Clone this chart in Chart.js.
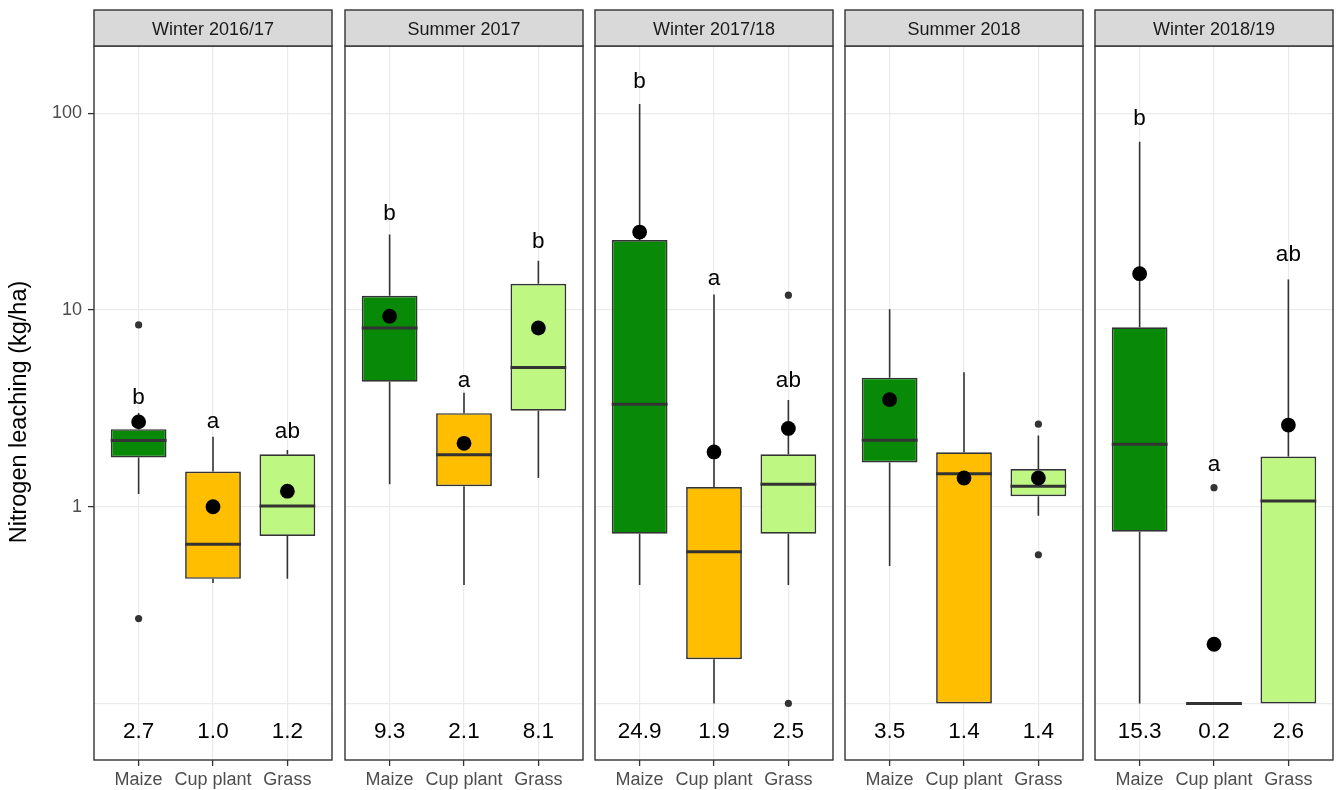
<!DOCTYPE html>
<html>
<head>
<meta charset="utf-8">
<title>Nitrogen leaching by crop and season</title>
<script src="https://cdn.jsdelivr.net/npm/chart.js@4.4.1/dist/chart.umd.min.js"></script>
<style>
  html, body { margin: 0; padding: 0; background: #ffffff; }
  #figure { position: relative; width: 1336px; height: 790px; overflow: hidden; background: #ffffff; }
  #figure canvas { position: absolute; top: 0; }
</style>
</head>
<body>
<div id="figure"></div>
<script>
// ---- data -------------------------------------------------------------
const seasons = ['Winter 2016/17', 'Summer 2017', 'Winter 2017/18', 'Summer 2018', 'Winter 2018/19'];
const crops = ['Maize', 'Cup plant', 'Grass'];

// box statistics, one row per season, one column per crop (kg N/ha)
const whiskerLow = [
  [1.16, 0.41, 0.43],
  [1.30, 0.40, 1.40],
  [0.40, 0.10, 0.40],
  [0.50, 0.10, 0.90],
  [0.10, 0.10, 0.10]
];
const lowerQuartile = [
  [1.78, 0.43, 0.71],
  [4.32, 1.27, 3.08],
  [0.73, 0.168, 0.73],
  [1.68, 0.10, 1.13],
  [0.746, 0.10, 0.10]
];
const medianValue = [
  [2.17, 0.645, 1.01],
  [8.10, 1.84, 5.11],
  [3.32, 0.59, 1.30],
  [2.18, 1.47, 1.27],
  [2.08, 0.10, 1.07]
];
const upperQuartile = [
  [2.48, 1.51, 1.85],
  [11.8, 2.99, 13.6],
  [22.7, 1.26, 1.85],
  [4.53, 1.89, 1.555],
  [8.17, 0.10, 1.80]
];
const whiskerHigh = [
  [3.00, 2.27, 1.94],
  [24.2, 3.80, 17.8],
  [111.5, 12.0, 3.49],
  [10.1, 4.82, 2.30],
  [71.7, 0.10, 14.3]
];
const outlierValues = [
  [[8.4, 0.27], [], []],
  [[], [], []],
  [[], [], [11.9, 0.10]],
  [[], [], [2.63, 0.57]],
  [[], [1.25], []]
];
const meanValue = [
  [2.7, 1.0, 1.2],
  [9.3, 2.1, 8.1],
  [24.9, 1.9, 2.5],
  [3.5, 1.4, 1.4],
  [15.3, 0.2, 2.6]
];
// significance letters and the level (kg N/ha) of their baseline
const groupLetters = [
  ['b', 'a', 'ab'],
  ['b', 'a', 'b'],
  ['b', 'a', 'ab'],
  ['', '', ''],
  ['b', 'a', 'ab']
];
const letterLevel = [
  [3.33, 2.50, 2.24],
  [28.7, 4.05, 20.6],
  [134, 13.4, 4.05],
  [null, null, null],
  [87.2, 1.52, 17.8]
];
const yGridValues = [0.1, 1, 10, 100];
const yTickLabels = ['', '1', '10', '100'];
const yRange = [0.0516, 219.8];

// ---- styling / layout -------------------------------------------------
const cropFill = ['#088A08', '#FFBF00', '#BEF781'];
const INK = '#333333';
const GRID = '#EBEBEB';
const FONT = '"Liberation Sans", Arial, "DejaVu Sans", sans-serif';
const AXIS_TEXT = 18;
const LABEL_TEXT = 22.5;
const panelLeft = [94, 345, 595, 845, 1095];
const PANEL_W = 238, PANEL_TOP = 46, PANEL_BOTTOM = 760, STRIP_H = 36;
const AXIS_W = 94, PAD = 4, FIG_H = 790;

const figure = document.getElementById('figure');

// whiskers and median bars, drawn right after the boxes
const boxParts = {
  id: 'boxParts',
  afterDatasetDraw(chart, args, opts) {
    if (args.index !== 0) return;
    const p = opts.panel;
    const y = chart.scales.y;
    const ctx = chart.ctx;
    ctx.save();
    ctx.strokeStyle = INK;
    ctx.lineCap = 'butt';
    args.meta.data.forEach((bar, k) => {
      const { x, width } = bar.getProps(['x', 'width'], true);
      ctx.lineWidth = 1.6;
      ctx.beginPath();
      ctx.moveTo(x, y.getPixelForValue(upperQuartile[p][k]));
      ctx.lineTo(x, y.getPixelForValue(whiskerHigh[p][k]));
      ctx.moveTo(x, y.getPixelForValue(lowerQuartile[p][k]));
      ctx.lineTo(x, y.getPixelForValue(whiskerLow[p][k]));
      ctx.stroke();
      const ym = y.getPixelForValue(medianValue[p][k]);
      ctx.lineWidth = 3;
      ctx.beginPath();
      ctx.moveTo(x - width / 2, ym);
      ctx.lineTo(x + width / 2, ym);
      ctx.stroke();
    });
    ctx.restore();
  }
};

// letters above the boxes and mean values along the bottom
const panelText = {
  id: 'panelText',
  afterDatasetsDraw(chart, args, opts) {
    const p = opts.panel;
    const { x: xs, y: ys } = chart.scales;
    const ctx = chart.ctx;
    ctx.save();
    ctx.fillStyle = '#000000';
    ctx.font = `${LABEL_TEXT}px ${FONT}`;
    ctx.textAlign = 'center';
    ctx.textBaseline = 'alphabetic';
    crops.forEach((c, k) => {
      const x = xs.getPixelForValue(k + 1);
      if (groupLetters[p][k]) {
        ctx.fillText(groupLetters[p][k], x, ys.getPixelForValue(letterLevel[p][k]));
      }
      ctx.fillText(meanValue[p][k].toFixed(1), x, chart.chartArea.bottom - 22.3);
    });
    ctx.restore();
  }
};

// panel frame, facet strip and (first panel) the y-axis title
const panelFrame = {
  id: 'panelFrame',
  afterDraw(chart, args, opts) {
    const p = opts.panel;
    const { left, top, right, bottom } = chart.chartArea;
    const ctx = chart.ctx;
    ctx.save();
    ctx.strokeStyle = INK;
    ctx.lineWidth = 1.4;
    ctx.strokeRect(left, top, right - left, bottom - top);
    ctx.fillStyle = '#D9D9D9';
    ctx.fillRect(left, top - STRIP_H, right - left, STRIP_H);
    ctx.strokeRect(left, top - STRIP_H, right - left, STRIP_H);
    ctx.fillStyle = '#1A1A1A';
    ctx.font = `${AXIS_TEXT}px ${FONT}`;
    ctx.textAlign = 'center';
    ctx.textBaseline = 'alphabetic';
    ctx.fillText(seasons[p], (left + right) / 2, top - 10.7);
    if (opts.yTitle) {
      ctx.translate(26, 412);
      ctx.rotate(-Math.PI / 2);
      ctx.fillStyle = '#000000';
      ctx.font = `23.5px ${FONT}`;
      ctx.fillText(opts.yTitle, 0, 0);
    }
    ctx.restore();
  }
};

function makePanel(p) {
  const first = p === 0;
  const axisW = first ? AXIS_W : 0;
  const leftPad = first ? 0 : PAD;
  const width = axisW + leftPad + PANEL_W + PAD;

  const canvas = document.createElement('canvas');
  canvas.width = width;
  canvas.height = FIG_H;
  canvas.style.left = (panelLeft[p] - axisW - leftPad) + 'px';
  canvas.style.width = width + 'px';
  canvas.style.height = FIG_H + 'px';
  figure.appendChild(canvas);

  const boxes = crops.map((c, k) => ({ x: k + 1, y: [lowerQuartile[p][k], upperQuartile[p][k]] }));
  const means = crops.map((c, k) => ({ x: k + 1, y: meanValue[p][k] }));
  const outliers = [];
  outlierValues[p].forEach((vals, k) => vals.forEach(v => outliers.push({ x: k + 1, y: v })));

  return new Chart(canvas, {
    type: 'bar',
    data: {
      datasets: [
        {
          type: 'bar',
          data: boxes,
          backgroundColor: cropFill,
          borderColor: INK,
          borderWidth: 1.7,
          borderSkipped: false,
          barPercentage: 0.75,
          categoryPercentage: 1,
          order: 3
        },
        {
          type: 'scatter',
          data: outliers,
          pointRadius: 3.6,
          pointBackgroundColor: INK,
          pointBorderWidth: 0,
          order: 2
        },
        {
          type: 'scatter',
          data: means,
          pointRadius: 7.4,
          pointBackgroundColor: '#000000',
          pointBorderWidth: 0,
          order: 1
        }
      ]
    },
    options: {
      responsive: false,
      animation: false,
      devicePixelRatio: 1,
      events: [],
      layout: {
        autoPadding: false,
        padding: { top: PANEL_TOP, bottom: 0, left: leftPad, right: PAD }
      },
      scales: {
        x: {
          type: 'linear',
          min: 0.4,
          max: crops.length + 0.6,
          offset: false,
          bounds: 'data',
          afterBuildTicks: s => { s.ticks = crops.map((c, i) => ({ value: i + 1 })); },
          afterFit: s => {
            s.height = FIG_H - PANEL_BOTTOM;
            s.paddingLeft = 0;
            s.paddingRight = 0;
          },
          ticks: {
            color: '#4D4D4D',
            font: { family: FONT, size: AXIS_TEXT },
            padding: 3,
            maxRotation: 0,
            autoSkip: false,
            callback: (v, i) => crops[i]
          },
          grid: { offset: false, color: GRID, lineWidth: 1.2, tickLength: 6, tickWidth: 1.3, tickColor: INK },
          border: { display: false }
        },
        y: {
          type: 'logarithmic',
          min: yRange[0],
          max: yRange[1],
          afterBuildTicks: s => { s.ticks = yGridValues.map(v => ({ value: v })); },
          afterFit: s => {
            s.width = axisW;
            s.paddingTop = 0;
            s.paddingBottom = 0;
          },
          ticks: {
            display: first,
            padding: 6,
            color: '#4D4D4D',
            font: { family: FONT, size: AXIS_TEXT },
            autoSkip: false,
            callback: (v, i) => yTickLabels[i]
          },
          grid: {
            color: GRID,
            lineWidth: 1.2,
            drawTicks: first,
            tickLength: 6,
            tickWidth: 1.3,
            tickColor: ctx => (yTickLabels[ctx.index] ? INK : 'rgba(0,0,0,0)')
          },
          border: { display: false }
        }
      },
      plugins: {
        legend: { display: false },
        tooltip: { enabled: false },
        boxParts: { panel: p },
        panelText: { panel: p },
        panelFrame: { panel: p, yTitle: first ? 'Nitrogen leaching (kg/ha)' : '' }
      }
    },
    plugins: [boxParts, panelText, panelFrame]
  });
}

seasons.forEach((s, p) => makePanel(p));
</script>
</body>
</html>
